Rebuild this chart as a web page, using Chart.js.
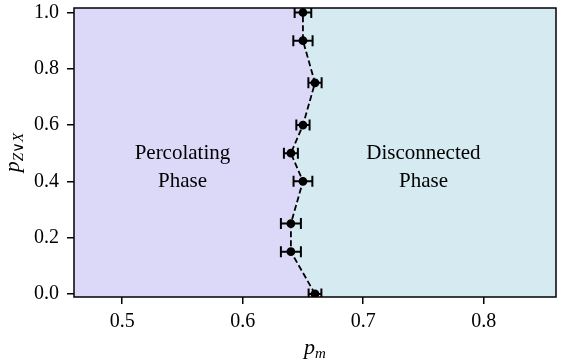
<!DOCTYPE html>
<html lang="en">
<head>
<meta charset="UTF-8">
<title>Phase boundary</title>
<script src="https://cdn.jsdelivr.net/npm/chart.js"></script>
<style>
    html, body { margin: 0; padding: 0; background: #fff; }
    canvas { display: block; }
</style>
</head>
<body>
<canvas id="phaseChart" width="564" height="364"></canvas>
<script>
// data
const pZX = [0.0, 0.15, 0.25, 0.4, 0.5, 0.6, 0.75, 0.9, 1.0];
const pM = [0.66, 0.64, 0.64, 0.65, 0.64, 0.65, 0.66, 0.65, 0.65];
const pMErr = [0.0053, 0.0083, 0.0083, 0.0078, 0.0058, 0.0055, 0.0055, 0.008, 0.0069];
const xTicks = [0.5, 0.6, 0.7, 0.8];
const yTicks = [0.0, 0.2, 0.4, 0.6, 0.8, 1.0];
const xLimits = [0.46, 0.86];
const yLimits = [-0.011, 1.016];
const leftLabel = ['Percolating', 'Phase'];
const rightLabel = ['Disconnected', 'Phase'];

const SERIF = "'Liberation Serif', 'DejaVu Serif', serif";
Chart.defaults.font.family = SERIF;
Chart.defaults.font.size = 20;
Chart.defaults.color = '#000';

const points = pZX.map((y, i) => ({ x: pM[i], y: y }));
// boundary stretched to the axis limits so the two phases cover the whole panel
const boundary = [{ x: pM[0], y: yLimits[0] }, ...points.map(p => ({ ...p })), { x: pM[pM.length - 1], y: yLimits[1] }];

const errorBars = {
    id: 'errorBars',
    afterDatasetsDraw(chart) {
        const { ctx, chartArea, scales: { x, y } } = chart;
        ctx.save();
        ctx.beginPath();
        ctx.rect(chartArea.left, chartArea.top, chartArea.width, chartArea.height);
        ctx.clip();
        ctx.strokeStyle = '#000';
        ctx.lineWidth = 2;
        pM.forEach((v, i) => {
            const x0 = x.getPixelForValue(v - pMErr[i]);
            const x1 = x.getPixelForValue(v + pMErr[i]);
            const py = y.getPixelForValue(pZX[i]);
            ctx.beginPath();
            ctx.moveTo(x0, py); ctx.lineTo(x1, py);
            ctx.moveTo(x0, py - 5.5); ctx.lineTo(x0, py + 5.5);
            ctx.moveTo(x1, py - 5.5); ctx.lineTo(x1, py + 5.5);
            ctx.stroke();
        });
        ctx.restore();
    }
};

const decorations = {
    id: 'decorations',
    afterDatasetsDraw(chart) {
        const { ctx, chartArea, scales: { x, y } } = chart;
        ctx.save();
        ctx.fillStyle = '#000';
        ctx.font = '21px ' + SERIF;
        ctx.textAlign = 'center';
        ctx.textBaseline = 'middle';
        const cy = y.getPixelForValue(0.45);
        [[leftLabel, 0.55], [rightLabel, 0.75]].forEach(([lines, xv]) => {
            const cx = x.getPixelForValue(xv);
            ctx.fillText(lines[0], cx, cy - 14);
            ctx.fillText(lines[1], cx, cy + 14);
        });
        // frame
        ctx.strokeStyle = '#000';
        ctx.lineWidth = 1.5;
        ctx.strokeRect(chartArea.left, chartArea.top, chartArea.width, chartArea.height);
        ctx.restore();
    },
    afterDraw(chart) {
        const { ctx, chartArea } = chart;
        ctx.save();
        ctx.fillStyle = '#000';
        ctx.textBaseline = 'alphabetic';
        // x title: p_m
        const big = 'italic 22px ' + SERIF;
        const small = 'italic 15px ' + SERIF;
        ctx.font = big;
        const wp = ctx.measureText('p').width;
        ctx.font = small;
        const wm = ctx.measureText('m').width;
        let sx = (chartArea.left + chartArea.right) / 2 - (wp + wm) / 2;
        ctx.font = big;
        ctx.fillText('p', sx, 354);
        ctx.font = small;
        ctx.fillText('m', sx + wp, 358);
        // y title: p_{Z∨X}
        ctx.translate(19, (chartArea.top + chartArea.bottom) / 2);
        ctx.rotate(-Math.PI / 2);
        ctx.font = big;
        const wp2 = ctx.measureText('p').width;
        ctx.font = small;
        const ws = ctx.measureText('Z∨X').width;
        sx = -(wp2 + ws) / 2;
        ctx.font = big;
        ctx.fillText('p', sx, 0);
        ctx.font = small;
        ctx.fillText('Z', sx + wp2, 4);
        const wz = ctx.measureText('Z').width;
        ctx.font = '15px ' + SERIF;
        ctx.fillText('∨', sx + wp2 + wz, 4);
        const wv = ctx.measureText('∨').width;
        ctx.font = small;
        ctx.fillText('X', sx + wp2 + wz + wv, 4);
        ctx.restore();
    }
};

const ctx = document.getElementById('phaseChart').getContext('2d');
const chart = new Chart(ctx, {
    type: 'line',
    data: {
        datasets: [{
            label: 'boundary',
            data: points,
            order: 0,
            borderColor: '#000',
            borderWidth: 1.8,
            borderDash: [6, 3],
            pointRadius: 3.5,
            pointBackgroundColor: '#000',
            pointBorderColor: '#000',
            fill: false
        }, {
            label: 'percolating',
            data: boundary,
            order: 1,
            borderWidth: 0,
            pointRadius: 0,
            backgroundColor: '#dcd9f8',
            fill: { value: xLimits[0] }
        }, {
            label: 'disconnected',
            data: boundary,
            order: 2,
            borderWidth: 0,
            pointRadius: 0,
            backgroundColor: '#d5eaf1',
            fill: { value: xLimits[1] }
        }]
    },
    options: {
        indexAxis: 'y',
        responsive: false,
        animation: false,
        events: [],
        layout: { padding: { top: 8, right: 8, left: 0, bottom: 0 } },
        plugins: { legend: { display: false }, tooltip: { enabled: false } },
        scales: {
            x: {
                type: 'linear',
                min: xLimits[0],
                max: xLimits[1],
                afterBuildTicks: (s) => { s.ticks = xTicks.map(v => ({ value: v })); },
                afterFit: (s) => { s.height = 67; s.paddingLeft = 0; s.paddingRight = 0; },
                ticks: { padding: 6, callback: (v) => v.toFixed(1), maxRotation: 0 },
                grid: { drawOnChartArea: false, tickLength: 7, color: '#000', lineWidth: 1.5 },
                border: { display: false }
            },
            y: {
                type: 'linear',
                min: yLimits[0],
                max: yLimits[1],
                afterBuildTicks: (s) => { s.ticks = yTicks.map(v => ({ value: v })); },
                afterFit: (s) => { s.width = 74; s.paddingTop = 0; s.paddingBottom = 0; },
                ticks: { padding: 8, callback: (v) => v.toFixed(1) },
                grid: { drawOnChartArea: false, tickLength: 7, color: '#000', lineWidth: 1.5 },
                border: { display: false }
            }
        }
    },
    plugins: [errorBars, decorations]
});
</script>
</body>
</html>
